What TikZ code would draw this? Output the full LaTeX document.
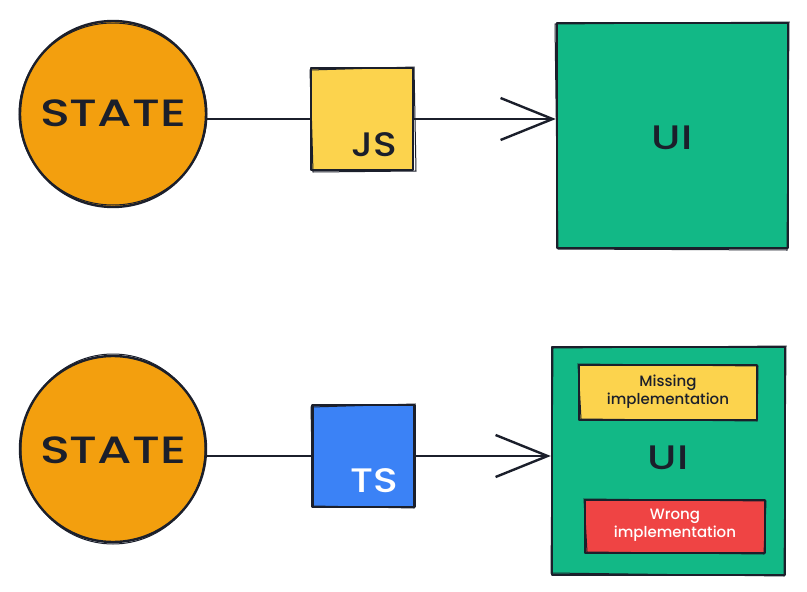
\documentclass[tikz,border=0pt]{standalone}
\usepackage{fontspec}
\usepackage{graphicx}
\setmainfont{Poppins}[BoldFont={Poppins Medium}]
\usetikzlibrary{arrows.meta,calc}
\definecolor{ink}{HTML}{1B1F2B}
\definecolor{amber}{HTML}{F39F0E}
\definecolor{jsyellow}{HTML}{FCD34D}
\definecolor{uigreen}{HTML}{12B886}
\definecolor{tsblue}{HTML}{3B82F6}
\definecolor{wrongred}{HTML}{EF4444}
\tikzset{
  sketch/.style={draw=ink, line width=2.4pt, line join=round},
  statenode/.style={sketch, circle, fill=amber, minimum size=186pt, inner sep=0pt},
  smallbox/.style={sketch, rectangle, minimum width=102pt, minimum height=102pt, inner sep=0pt},
  uibox/.style={sketch, rectangle, fill=uigreen, inner sep=0pt},
  notebox/.style={sketch, rectangle, inner sep=0pt, line width=2.2pt},
  bigtxt/.style={font=\bfseries\fontsize{38}{40}\selectfont, text=ink, inner sep=0pt},
  midtxt/.style={font=\bfseries\fontsize{34}{36}\selectfont, inner sep=0pt},
  notetxt/.style={font=\bfseries\fontsize{15}{18}\selectfont, align=center, inner sep=0pt},
  conn/.style={draw=ink, line width=2.4pt},
  arr/.style={conn, -{Straight Barb[length=52pt,width=42pt,line width=2.4pt]}},
  rough/.style={draw=ink, line width=1pt}
}
\begin{document}
\begin{tikzpicture}[x=1pt,y=-1pt]
\useasboundingbox (0,0) rectangle (807,592);
% ---------- top row ----------
\node[statenode] (s1) at (113,114) {};
\draw[rough] (113,114) ellipse [x radius=94pt, y radius=91pt];
\node[bigtxt] (s1t) at (113,113) {\scalebox{1.3}[1]{STATE}};
\node[smallbox, fill=jsyellow] (js) at (362,119) {};
\draw[rough] (310,70) -- (414,67) -- (416,171) -- (313,172) -- cycle;
\node[midtxt, text=ink] (jst) at (374,145) {\scalebox{1.15}[1]{JS}};
\node[uibox, minimum width=231pt, minimum height=225pt] (ui1) at (672.5,135.5) {};
\draw[rough] (555,24) -- (789,22) -- (787,250) -- (558,249) -- cycle;
\node[midtxt, text=ink] (ui1t) at (672,138) {\scalebox{1.25}[1]{UI}};
\draw[conn] (s1.east |- js.west) -- (js.west);
\draw[arr] (js.east) -- (js.east -| ui1.west);
% ---------- bottom row ----------
\node[statenode] (s2) at (113,449) {};
\draw[rough] (113,449) ellipse [x radius=92pt, y radius=95pt];
\node[bigtxt] (s2t) at (113,450) {\scalebox{1.3}[1]{STATE}};
\node[smallbox, fill=tsblue] (ts) at (363.5,456) {};
\draw[rough] (311,407) -- (415,404) -- (414,508) -- (313,506) -- cycle;
\node[midtxt, text=white] (tst) at (374,481) {\scalebox{1.2}[1]{TS}};
\node[uibox, minimum width=233pt, minimum height=228pt] (ui2) at (668.5,461) {};
\draw[rough] (553,348) -- (786,346) -- (784,576) -- (551,573) -- cycle;
\node[midtxt, text=ink] (ui2t) at (668,458) {\scalebox{1.25}[1]{UI}};
\node[notebox, fill=jsyellow, minimum width=178pt, minimum height=55pt] (miss) at (668,392.5) {};
\draw[rough] (578,364) -- (758,366) -- (757,421) -- (581,419) -- cycle;
\node[notetxt, text=ink] (misst) at (668,392) {Missing\\implementation};
\node[notebox, fill=wrongred, minimum width=180pt, minimum height=53pt] (wrong) at (675,526.5) {};
\draw[rough] (584,499) -- (766,501) -- (764,554) -- (587,552) -- cycle;
\node[notetxt, text=white] (wrongt) at (675,525) {Wrong\\implementation};
\draw[conn] (s2.east |- ts.west) -- (ts.west);
\draw[arr] (ts.east) -- (ts.east -| ui2.west);
\end{tikzpicture}
\end{document}
